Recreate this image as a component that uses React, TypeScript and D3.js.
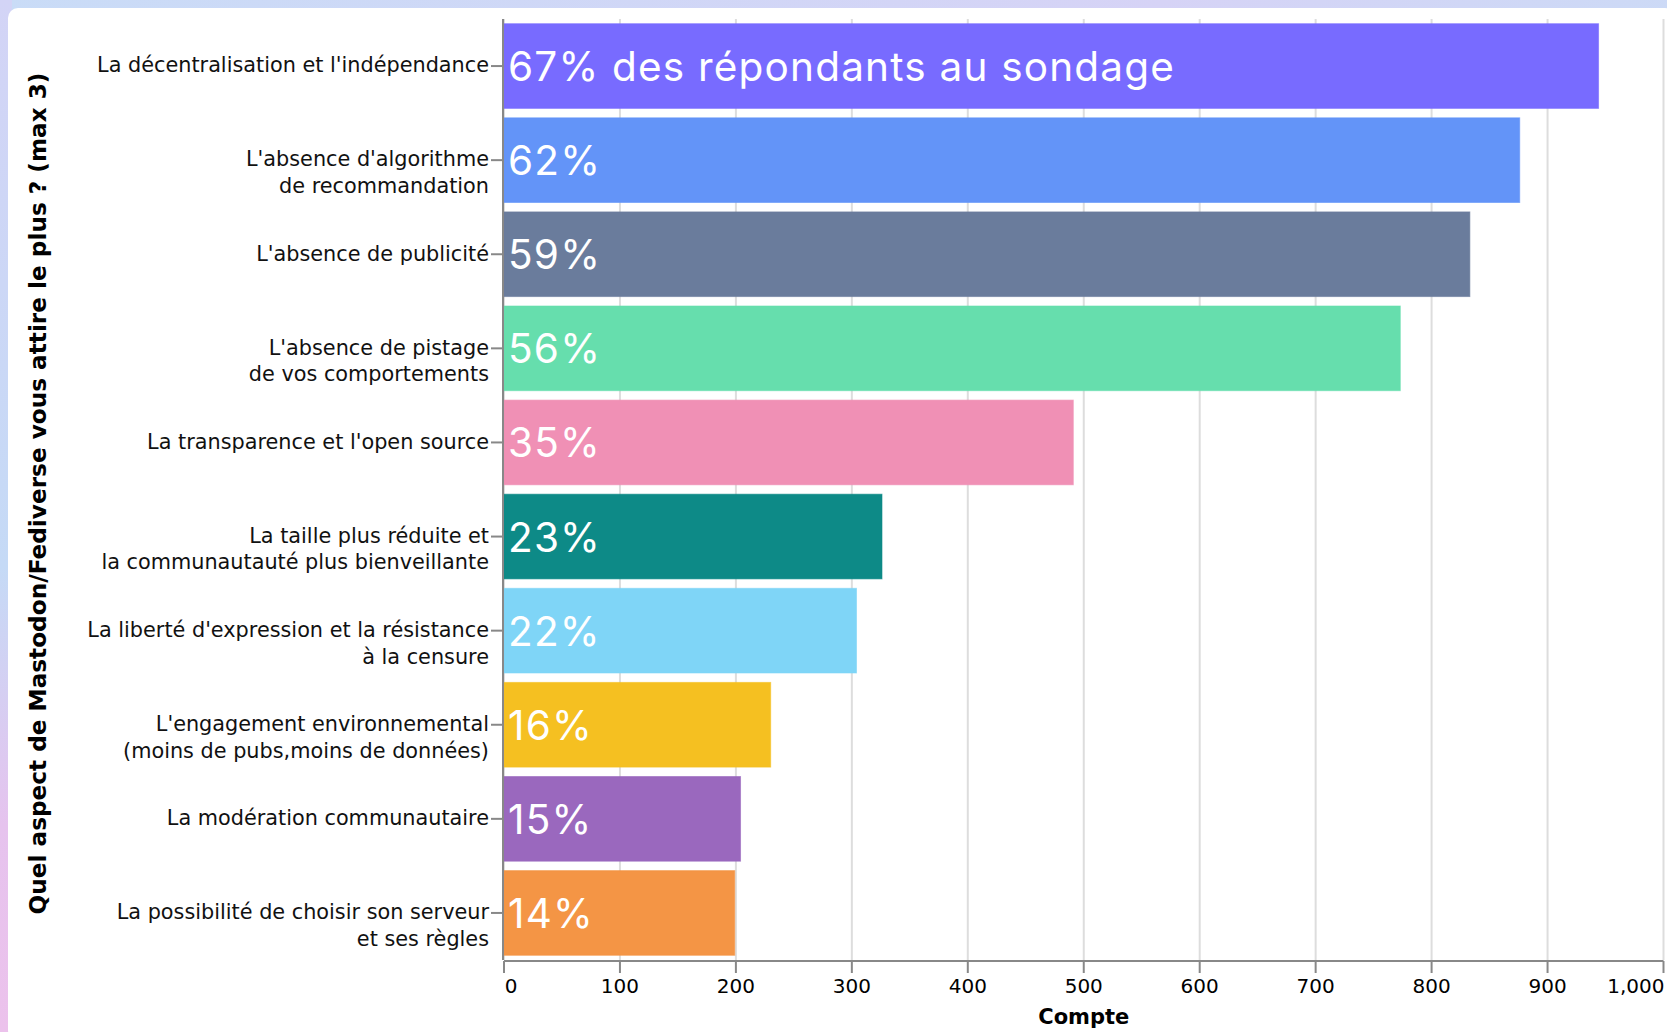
import React from 'react';
import * as d3 from 'd3';

// categories (lines of each label), counts, share labels and colours
const categories = [
  ['La décentralisation et l\'indépendance'],
  ['L\'absence d\'algorithme', 'de recommandation'],
  ['L\'absence de publicité'],
  ['L\'absence de pistage', 'de vos comportements'],
  ['La transparence et l\'open source'],
  ['La taille plus réduite et', 'la communautauté plus bienveillante'],
  ['La liberté d\'expression et la résistance', 'à la censure'],
  ['L\'engagement environnemental', '(moins de pubs,moins de données)'],
  ['La modération communautaire'],
  ['La possibilité de choisir son serveur', 'et ses règles'],
];
const counts = [944, 876, 833, 773, 491, 326, 304, 230, 204, 199];
const shares = ['67% des répondants au sondage', '62%', '59%', '56%', '35%', '23%', '22%', '16%', '15%', '14%'];
const colors = ['#786bff', '#6394f8', '#6a7c9c', '#66dead', '#f090b5', '#0d8a87', '#7fd5f7', '#f5c021', '#9a68be', '#f49545'];
const xTicks = [0, 100, 200, 300, 400, 500, 600, 700, 800, 900, 1000];

const W = 1667;
const H = 1032;
const margin = { top: 19, left: 504, right: 5, bottom: 72 };

export default function App() {
  const height = H - margin.top - margin.bottom;
  const ids = categories.map((_, i) => String(i));

  const x = d3.scaleLinear().domain([0, 1000]).range([0, 1159.5]);
  const y = d3.scaleBand().domain(ids).range([0, height]).paddingInner(0.1).paddingOuter(0.05);
  const fmt = d3.format(',');
  const labelFont = '"DejaVu Sans", Verdana, sans-serif';

  return (
    <svg width={W} height={H} style={{ position: 'absolute', left: 0, top: 0 }}>
      <defs>
        <linearGradient id="bg" x1="0" y1="0" x2="1" y2="1">
          <stop offset="0" stopColor="#c9dcf7" />
          <stop offset="0.35" stopColor="#d6d3f6" />
          <stop offset="0.6" stopColor="#c6def6" />
          <stop offset="1" stopColor="#e8c3ee" />
        </linearGradient>
        <linearGradient id="bgLeft" x1="0" y1="0" x2="0" y2="1">
          <stop offset="0" stopColor="#d3d4f6" />
          <stop offset="0.55" stopColor="#c5daf6" />
          <stop offset="0.8" stopColor="#e6c3ee" />
          <stop offset="1" stopColor="#ecc2ec" />
        </linearGradient>
      </defs>
      <rect x={0} y={0} width={W} height={H} fill="url(#bg)" />
      <rect x={0} y={0} width={12} height={H} fill="url(#bgLeft)" />
      <rect x={8} y={8} width={W} height={H} rx={10} fill="#fff" />

      <g transform={`translate(${margin.left},${margin.top})`}>
        {/* grid */}
        {xTicks.map((t) => (
          <line key={'g' + t} x1={x(t)} x2={x(t)} y1={0} y2={height} stroke="#ddd" strokeWidth={2} />
        ))}

        {/* bars */}
        {counts.map((c, i) => (
          <rect
            key={'b' + i}
            x={x(0)}
            y={y(ids[i])}
            width={x(c) - x(0)}
            height={y.bandwidth()}
            fill={colors[i]}
            stroke={colors[i]}
            strokeOpacity={0.6}
            strokeWidth={1}
          />
        ))}

        {/* share labels */}
        {shares.map((s, i) => (
          <text
            key={'s' + i}
            x={x(0) + 4}
            y={(y(ids[i]) as number) + y.bandwidth() / 2 + 15}
            fill="#fff"
            fontFamily="Inter, sans-serif"
            fontSize={40.5}
            letterSpacing={1.2}
          >
            {s}
          </text>
        ))}

        {/* x axis */}
        <line x1={0} x2={x(1000)} y1={height + 1} y2={height + 1} stroke="#888" strokeWidth={2} />
        {xTicks.map((t) => (
          <g key={'t' + t} transform={`translate(${x(t)},${height + 1})`}>
            <line y1={0} y2={12} stroke="#888" strokeWidth={2} />
            <text
              y={25}
              dy="0.35em"
              textAnchor={t === 1000 ? 'end' : 'middle'}
              dx={t === 0 ? 7 : t === 1000 ? 1 : 0}
              fontFamily={labelFont}
              fontSize={20}
              fill="#000"
            >
              {fmt(t)}
            </text>
          </g>
        ))}
        <text
          x={x(500)}
          y={height + 57}
          dy="0.35em"
          textAnchor="middle"
          fontFamily={labelFont}
          fontWeight="bold"
          fontSize={21}
          fill="#000"
        >
          Compte
        </text>

        {/* y axis */}
        <line x1={-1} x2={-1} y1={0} y2={height} stroke="#888" strokeWidth={2} />
        {categories.map((lines, i) => {
          const cy = (y(ids[i]) as number) + y.bandwidth() / 2;
          return (
            <g key={'y' + i} transform={`translate(0,${cy})`}>
              <line x1={-13} x2={-1} y1={0} y2={0} stroke="#888" strokeWidth={2} />
              <text textAnchor="end" fontFamily={labelFont} fontSize={20.8} fill="#111">
                {lines.map((l, j) => (
                  <tspan key={j} x={-15} y={j * 26.6 - 1} dy="0.35em">
                    {l}
                  </tspan>
                ))}
              </text>
            </g>
          );
        })}
      </g>

      <text
        transform={`translate(38,${margin.top + height / 2 + 4}) rotate(-90)`}
        textAnchor="middle"
        dy="0.35em"
        fontFamily={labelFont}
        fontWeight="bold"
        fontSize={23.2}
        fill="#000"
      >
        Quel aspect de Mastodon/Fediverse vous attire le plus ? (max 3)
      </text>
    </svg>
  );
}
